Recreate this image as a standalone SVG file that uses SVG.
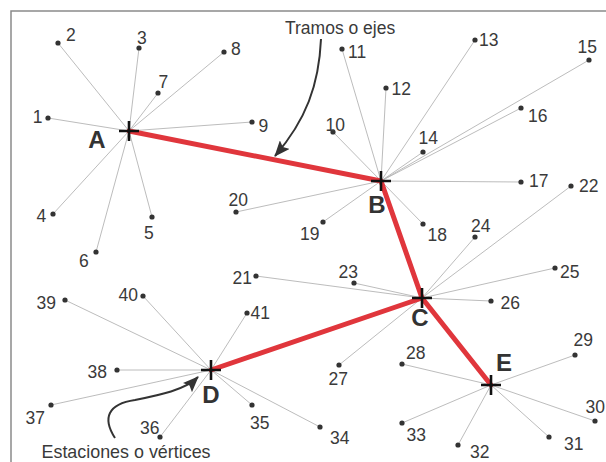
<svg xmlns="http://www.w3.org/2000/svg" width="606" height="462" viewBox="0 0 606 462">
<style>
.lbl{font-family:"Liberation Sans",Arial,sans-serif;font-size:17.5px;fill:#3a3a3a}
.st{font-family:"Liberation Sans",Arial,sans-serif;font-size:24px;font-weight:bold;fill:#333;text-anchor:middle}
.ln{stroke:#b4b4b4;stroke-width:0.9;fill:none}
.red{stroke:#e0363c;stroke-width:5;stroke-linecap:round;fill:none}
.cr{stroke:#111;stroke-width:2.6;fill:none}
.dot{fill:#333}
.ann{stroke:#333;stroke-width:2;fill:none}
</style>
<defs>
<marker id="ah" viewBox="0 0 16 13" refX="15" refY="6.5" markerWidth="16" markerHeight="13" markerUnits="userSpaceOnUse" orient="auto">
<path d="M0,0 L16,6.5 L0,13 L3,6.5 z" fill="#333"/>
</marker>
</defs>
<rect width="606" height="462" fill="#fff"/>
<path d="M11,462 V11 H606" stroke="#8a8a8a" stroke-width="1.5" fill="none"/>
<g id="connectors">
<g id="thin">
<line class="ln" x1="129" y1="131" x2="48" y2="118"/>
<line class="ln" x1="129" y1="131" x2="58" y2="43"/>
<line class="ln" x1="129" y1="131" x2="139" y2="48"/>
<line class="ln" x1="129" y1="131" x2="53" y2="214"/>
<line class="ln" x1="129" y1="131" x2="152" y2="217"/>
<line class="ln" x1="129" y1="131" x2="96" y2="252"/>
<line class="ln" x1="129" y1="131" x2="158" y2="93"/>
<line class="ln" x1="129" y1="131" x2="224" y2="52"/>
<line class="ln" x1="129" y1="131" x2="252" y2="122"/>
<line class="ln" x1="381" y1="181" x2="333" y2="132"/>
<line class="ln" x1="381" y1="181" x2="342" y2="49"/>
<line class="ln" x1="381" y1="181" x2="386" y2="88"/>
<line class="ln" x1="381" y1="181" x2="475" y2="40"/>
<line class="ln" x1="381" y1="181" x2="423" y2="152"/>
<line class="ln" x1="381" y1="181" x2="589" y2="60"/>
<line class="ln" x1="381" y1="181" x2="521" y2="108"/>
<line class="ln" x1="381" y1="181" x2="521" y2="182"/>
<line class="ln" x1="381" y1="181" x2="423" y2="224"/>
<line class="ln" x1="381" y1="181" x2="323" y2="222"/>
<line class="ln" x1="381" y1="181" x2="236" y2="212"/>
<line class="ln" x1="422" y1="298" x2="256" y2="276"/>
<line class="ln" x1="422" y1="298" x2="571" y2="186"/>
<line class="ln" x1="422" y1="298" x2="354" y2="283"/>
<line class="ln" x1="422" y1="298" x2="475" y2="237"/>
<line class="ln" x1="422" y1="298" x2="555" y2="268"/>
<line class="ln" x1="422" y1="298" x2="491" y2="301"/>
<line class="ln" x1="422" y1="298" x2="339" y2="365"/>
<line class="ln" x1="491" y1="385" x2="402" y2="364"/>
<line class="ln" x1="491" y1="385" x2="575" y2="355"/>
<line class="ln" x1="491" y1="385" x2="595" y2="421"/>
<line class="ln" x1="491" y1="385" x2="549" y2="437"/>
<line class="ln" x1="491" y1="385" x2="458" y2="445"/>
<line class="ln" x1="491" y1="385" x2="402" y2="423"/>
<line class="ln" x1="211" y1="370" x2="320" y2="427"/>
<line class="ln" x1="211" y1="370" x2="252" y2="405"/>
<line class="ln" x1="211" y1="370" x2="160" y2="437"/>
<line class="ln" x1="211" y1="370" x2="51" y2="405"/>
<line class="ln" x1="211" y1="370" x2="117" y2="370"/>
<line class="ln" x1="211" y1="370" x2="65" y2="300"/>
<line class="ln" x1="211" y1="370" x2="143" y2="296"/>
<line class="ln" x1="211" y1="370" x2="247" y2="313"/>
</g>
<g id="routes">
<line class="red" x1="129" y1="131" x2="381" y2="181"/>
<line class="red" x1="381" y1="181" x2="422" y2="298"/>
<line class="red" x1="422" y1="298" x2="491" y2="385"/>
<line class="red" x1="422" y1="298" x2="211" y2="370"/>
</g>
<g id="annotation-arrows">
<path class="ann" d="M321,39 C319,85 306,120 275,156" marker-end="url(#ah)"/>
<path class="ann" d="M115,438 C102,418 108,404 135,400 C160,395 185,390 198,377" marker-end="url(#ah)"/>
</g>
</g>
<g id="station-A"><path class="cr" d="M119,131 H139 M129,121 V141"/><text class="st" x="97" y="148">A</text></g>
<g id="station-B"><path class="cr" d="M371,181 H391 M381,171 V191"/><text class="st" x="377" y="213">B</text></g>
<g id="station-C"><path class="cr" d="M412,298 H432 M422,288 V308"/><text class="st" x="420" y="326">C</text></g>
<g id="station-D"><path class="cr" d="M201,370 H221 M211,360 V380"/><text class="st" x="211" y="403">D</text></g>
<g id="station-E"><path class="cr" d="M481,385 H501 M491,375 V395"/><text class="st" x="504" y="371">E</text></g>
<g id="p1"><circle class="dot" cx="48" cy="118" r="2.6"/><text class="lbl" x="42.5" y="123" text-anchor="end">1</text></g>
<g id="p2"><circle class="dot" cx="58" cy="43" r="2.6"/><text class="lbl" x="66" y="41">2</text></g>
<g id="p3"><circle class="dot" cx="139" cy="48" r="2.6"/><text class="lbl" x="137" y="43.5">3</text></g>
<g id="p4"><circle class="dot" cx="53" cy="214" r="2.6"/><text class="lbl" x="36.5" y="222">4</text></g>
<g id="p5"><circle class="dot" cx="152" cy="217" r="2.6"/><text class="lbl" x="144" y="238.5">5</text></g>
<g id="p6"><circle class="dot" cx="96" cy="252" r="2.6"/><text class="lbl" x="79" y="267">6</text></g>
<g id="p7"><circle class="dot" cx="158" cy="93" r="2.6"/><text class="lbl" x="158.5" y="87.5">7</text></g>
<g id="p8"><circle class="dot" cx="224" cy="52" r="2.6"/><text class="lbl" x="231" y="54.5">8</text></g>
<g id="p9"><circle class="dot" cx="252" cy="122" r="2.6"/><text class="lbl" x="258.5" y="132">9</text></g>
<g id="p10"><circle class="dot" cx="333" cy="132" r="2.6"/><text class="lbl" x="325.5" y="131">10</text></g>
<g id="p11"><circle class="dot" cx="342" cy="49" r="2.6"/><text class="lbl" x="348" y="57.5">11</text></g>
<g id="p12"><circle class="dot" cx="386" cy="88" r="2.6"/><text class="lbl" x="391.5" y="94.5">12</text></g>
<g id="p13"><circle class="dot" cx="475" cy="40" r="2.6"/><text class="lbl" x="479" y="46">13</text></g>
<g id="p14"><circle class="dot" cx="423" cy="152" r="2.6"/><text class="lbl" x="418.5" y="143.5">14</text></g>
<g id="p15"><circle class="dot" cx="589" cy="60" r="2.6"/><text class="lbl" x="577.5" y="52.5">15</text></g>
<g id="p16"><circle class="dot" cx="521" cy="108" r="2.6"/><text class="lbl" x="528" y="122">16</text></g>
<g id="p17"><circle class="dot" cx="521" cy="182" r="2.6"/><text class="lbl" x="529" y="187">17</text></g>
<g id="p18"><circle class="dot" cx="423" cy="224" r="2.6"/><text class="lbl" x="427.5" y="240.5">18</text></g>
<g id="p19"><circle class="dot" cx="323" cy="222" r="2.6"/><text class="lbl" x="319.5" y="239.5" text-anchor="end">19</text></g>
<g id="p20"><circle class="dot" cx="236" cy="212" r="2.6"/><text class="lbl" x="228.5" y="206">20</text></g>
<g id="p21"><circle class="dot" cx="256" cy="276" r="2.6"/><text class="lbl" x="232.5" y="283.5">21</text></g>
<g id="p22"><circle class="dot" cx="571" cy="186" r="2.6"/><text class="lbl" x="579" y="191.5">22</text></g>
<g id="p23"><circle class="dot" cx="354" cy="283" r="2.6"/><text class="lbl" x="338.5" y="277.5">23</text></g>
<g id="p24"><circle class="dot" cx="475" cy="237" r="2.6"/><text class="lbl" x="471" y="232">24</text></g>
<g id="p25"><circle class="dot" cx="555" cy="268" r="2.6"/><text class="lbl" x="560" y="277.5">25</text></g>
<g id="p26"><circle class="dot" cx="491" cy="301" r="2.6"/><text class="lbl" x="500.5" y="308.5">26</text></g>
<g id="p27"><circle class="dot" cx="339" cy="365" r="2.6"/><text class="lbl" x="328.5" y="384.5">27</text></g>
<g id="p28"><circle class="dot" cx="402" cy="364" r="2.6"/><text class="lbl" x="406" y="359">28</text></g>
<g id="p29"><circle class="dot" cx="575" cy="355" r="2.6"/><text class="lbl" x="573.5" y="346">29</text></g>
<g id="p30"><circle class="dot" cx="595" cy="421" r="2.6"/><text class="lbl" x="585.5" y="412.5">30</text></g>
<g id="p31"><circle class="dot" cx="549" cy="437" r="2.6"/><text class="lbl" x="564" y="450">31</text></g>
<g id="p32"><circle class="dot" cx="458" cy="445" r="2.6"/><text class="lbl" x="470" y="457.5">32</text></g>
<g id="p33"><circle class="dot" cx="402" cy="423" r="2.6"/><text class="lbl" x="406.5" y="441">33</text></g>
<g id="p34"><circle class="dot" cx="320" cy="427" r="2.6"/><text class="lbl" x="330" y="444">34</text></g>
<g id="p35"><circle class="dot" cx="252" cy="405" r="2.6"/><text class="lbl" x="250" y="428.5">35</text></g>
<g id="p36"><circle class="dot" cx="160" cy="437" r="2.6"/><text class="lbl" x="140" y="433.5">36</text></g>
<g id="p37"><circle class="dot" cx="51" cy="405" r="2.6"/><text class="lbl" x="25.5" y="424">37</text></g>
<g id="p38"><circle class="dot" cx="117" cy="370" r="2.6"/><text class="lbl" x="87.5" y="378">38</text></g>
<g id="p39"><circle class="dot" cx="65" cy="300" r="2.6"/><text class="lbl" x="36.5" y="308.5">39</text></g>
<g id="p40"><circle class="dot" cx="143" cy="296" r="2.6"/><text class="lbl" x="118.5" y="300.5">40</text></g>
<g id="p41"><circle class="dot" cx="247" cy="313" r="2.6"/><text class="lbl" x="250.5" y="318.5">41</text></g>
<g id="label-tramos"><text class="lbl" x="285" y="33.5">Tramos o ejes</text></g>
<g id="label-estaciones"><text class="lbl" x="41.5" y="457.5" style="font-size:17.9px">Estaciones o vértices</text></g>
</svg>
